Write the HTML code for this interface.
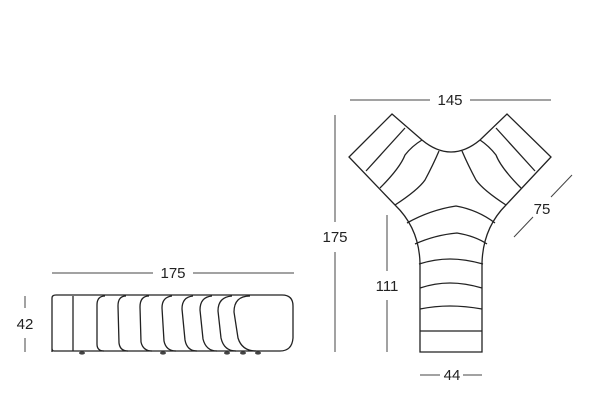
<!DOCTYPE html>
<html><head><meta charset="utf-8"><style>html,body{margin:0;padding:0;background:#fff}svg{display:block}</style></head><body>
<svg width="600" height="400" viewBox="0 0 600 400" xmlns="http://www.w3.org/2000/svg">
<g stroke="#444" stroke-width="1" fill="none">
<!-- left dims -->
<line x1="52" y1="273" x2="153" y2="273"/><line x1="193" y1="273" x2="294" y2="273"/>
<line x1="25" y1="296" x2="25" y2="308"/><line x1="25" y1="338" x2="25" y2="352"/>
</g>
<g stroke="#222" stroke-width="1.3" fill="none">
<path d="M52 352 L52 298 Q52 295 56 295 L282 295 Q293 295 293 306 L293 338 Q292 351 280 351 L54 351 Q52 351 52 348"/>
<line x1="73" y1="296" x2="73" y2="351"/>
<path d="M105 296 Q97 296 97 305 L97 344 Q97 351 104 351"/>
<path d="M126 296 Q118 296 118 306 L119 343 Q120 351 128 351"/>
<path d="M149 296 Q140 296 140 307 L141 342 Q143 351 152 351"/>
<path d="M172 296 Q162 297 162 308 L164 341 Q166 351 176 351"/>
<path d="M193 296 Q182 297 182 309 L185 340 Q187 351 197 351"/>
<path d="M212 296 Q200 297 200 310 L203 339 Q206 351 217 351"/>
<path d="M232 296 Q218 297 218 311 L221 338 Q224 351 236 351"/>
<path d="M250 296 Q234 296 234 312 L238 338 Q242 351 256 351"/>
<g fill="#444" stroke="none">
<ellipse cx="82" cy="353" rx="3" ry="1.6"/><ellipse cx="163" cy="353" rx="3" ry="1.6"/><ellipse cx="227" cy="353" rx="3" ry="1.6"/><ellipse cx="243" cy="353" rx="3" ry="1.6"/><ellipse cx="258" cy="353" rx="3" ry="1.6"/>
</g>
<!-- Y shape -->
<path d="M392 114 L422 140 Q451 164 480 140 L507 114 L551 157 L506 205 Q483 228 482 263 L482 352 L420 352 L420 263 Q419 228 395 205 L349 157 Z"/>
<line x1="366" y1="171" x2="405" y2="128"/>
<path d="M380 188 Q400 168 405 155 Q412 146 422 140"/>
<path d="M395 205 Q418 190 425 180 Q433 165 439 151"/>
<line x1="535" y1="171" x2="496" y2="128"/>
<path d="M521 188 Q501 168 496 155 Q489 146 480 140"/>
<path d="M506 205 Q483 190 476 180 Q468 165 462 151"/>
<path d="M407 223 Q430 210 456 206 Q478 210 495 223"/>
<path d="M415 244 Q435 235 457 233 Q475 236 487 244"/>
<path d="M419 264 Q435 259 450 259 Q465 259 483 264"/>
<path d="M420 288 Q435 283 450 283 Q465 283 482 288"/>
<path d="M420 309 Q435 306 450 306 Q465 306 482 309"/>
<line x1="420" y1="331" x2="482" y2="331"/>
</g>
<g stroke="#444" stroke-width="1" fill="none">
<line x1="350" y1="100" x2="430" y2="100"/><line x1="470" y1="100" x2="551" y2="100"/>
<line x1="335" y1="115" x2="335" y2="222"/><line x1="335" y1="252" x2="335" y2="352"/>
<line x1="387" y1="215" x2="387" y2="271"/><line x1="387" y1="300" x2="387" y2="352"/>
<line x1="572" y1="175" x2="551" y2="197"/><line x1="533" y1="217" x2="514" y2="237"/>
<line x1="420" y1="375" x2="440" y2="375"/><line x1="463" y1="375" x2="482" y2="375"/>
</g>
<g font-family="Liberation Sans, sans-serif" font-size="15" fill="#222" text-anchor="middle">
<text x="173" y="278">175</text>
<text x="25" y="329">42</text>
<text x="450" y="105">145</text>
<text x="335" y="242">175</text>
<text x="387" y="291">111</text>
<text x="542" y="214">75</text>
<text x="452" y="380">44</text>
</g>
</svg>
</body></html>
